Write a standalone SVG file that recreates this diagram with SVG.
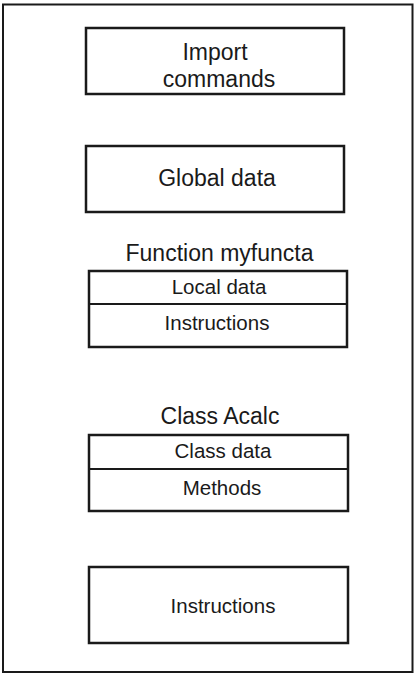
<svg xmlns="http://www.w3.org/2000/svg" width="415" height="674" viewBox="0 0 415 674">
  <style>
    .box { fill: #ffffff; stroke: #1a1a1a; stroke-width: 2.5; }
    .frame { fill: #ffffff; stroke: #1a1a1a; stroke-width: 2; }
    .div { stroke: #1a1a1a; stroke-width: 2.2; }
    .lbl { font-family: "Liberation Sans", Arial, sans-serif; fill: #1a1a1a; text-anchor: middle; }
    .big { font-size: 23px; }
    .mid { font-size: 20.5px; }
  </style>

  <!-- program frame -->
  <rect id="program" class="frame" x="3" y="4.5" width="409.5" height="667.5"/>

  <g id="imports">
    <rect class="box" x="86" y="28" width="258" height="66"/>
    <text class="lbl big" x="215" y="60">Import</text>
    <text class="lbl big" x="219" y="87">commands</text>
  </g>

  <g id="global-data">
    <rect class="box" x="86" y="146" width="258" height="66"/>
    <text class="lbl big" x="217" y="186">Global data</text>
  </g>

  <g id="function">
    <text class="lbl big" x="219.5" y="261">Function myfuncta</text>
    <rect class="box" x="89" y="271" width="258" height="76"/>
    <line class="div" x1="89" y1="304" x2="347" y2="304"/>
    <text class="lbl mid" x="219" y="294">Local data</text>
    <text class="lbl mid" x="217" y="330">Instructions</text>
  </g>

  <g id="class">
    <text class="lbl big" x="220" y="424">Class Acalc</text>
    <rect class="box" x="89" y="435" width="259" height="76"/>
    <line class="div" x1="89" y1="469" x2="348" y2="469"/>
    <text class="lbl mid" x="223" y="458">Class data</text>
    <text class="lbl mid" x="222" y="495">Methods</text>
  </g>

  <g id="main-instructions">
    <rect class="box" x="89" y="567" width="259" height="76"/>
    <text class="lbl mid" x="223" y="613">Instructions</text>
  </g>

  <g id="connectors"></g>
</svg>
